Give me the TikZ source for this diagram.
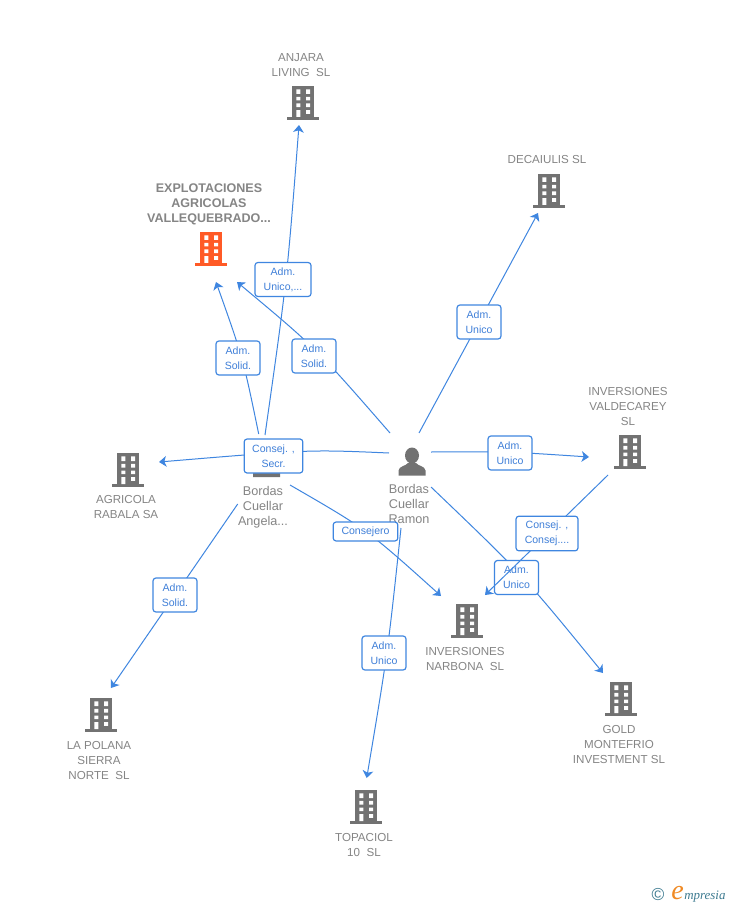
\documentclass[tikz,border=0pt]{standalone}
\usepackage{fontspec}
\setmainfont{Liberation Sans}
\newfontfamily\logofont{Liberation Serif}
\usetikzlibrary{arrows.meta}
\definecolor{linkblue}{HTML}{3F86E0}
\definecolor{boxtext}{HTML}{3F7FD8}
\definecolor{greytext}{HTML}{858585}
\definecolor{iconfill}{HTML}{727272}
\definecolor{orangeicon}{HTML}{FF5A26}
\definecolor{logoteal}{HTML}{3C7A90}
\definecolor{logoorange}{HTML}{F08A24}
\tikzset{
  x=0.75pt, y=-0.75pt,
  hub/.style={inner sep=0pt, minimum width=24pt, minimum height=26pt},
  caption/.style={inner sep=0pt, align=center, text=greytext, font=\fontsize{8.7}{11.25}\selectfont},
  captionbold/.style={caption, font=\fontsize{9.4}{11.25}\selectfont\bfseries},
  personcaption/.style={caption, font=\fontsize{9.5}{11.25}\selectfont},
  link/.style={draw=linkblue, line width=0.75pt, -{Stealth[length=5.5pt,width=8pt,inset=1.5pt]}},
  tag/.style={draw=linkblue, line width=0.9pt, fill=white, rounded corners=2.2pt, inner sep=0pt,
    minimum width=33pt, minimum height=25.5pt, align=center, text=boxtext,
    font=\fontsize{7.9}{11.25}\selectfont},
  bldg/.pic={
    \fill[pic actions] (-11,-17) rectangle (11,14);
    \fill[pic actions] (-16,14) rectangle (16,17);
    \fill[white] (-6.7,-13.7) rectangle (-2.7,-9) (3,-13.7) rectangle (7,-9)
                 (-6.7,-6.1) rectangle (-2.7,-2.5) (3,-6.1) rectangle (7,-2.5)
                 (-6.7,0.5) rectangle (-2.7,4.1) (3,0.5) rectangle (7,4.1)
                 (-6.7,7.2) rectangle (-2.7,14) (3,7.2) rectangle (7,10.8);
  },
  persona/.pic={
    \fill[iconfill] (0,-5.5) ellipse (7 and 8);
    \fill[iconfill] (-13.5,14.5) -- (-13.5,9.5) .. controls (-13,5) and (-6,5) .. (-4,2)
       -- (4,2) .. controls (6,5) and (13,5) .. (13.5,9.5) -- (13.5,14.5) -- cycle;
  }
}
\begin{document}
\begin{tikzpicture}
\useasboundingbox (0,0) rectangle (728,905);
\fill[white] (0,0) rectangle (728,905);

% entities
\node[hub] (anjara) at (303,103) {};
\node[hub] (decaiulis) at (549,191) {};
\node[hub] (explot) at (211,249) {};
\node[hub] (valdecarey) at (630,452) {};
\node[hub] (agricola) at (128,470) {};
\node[hub] (angela) at (266.5,462.5) {};
\node[hub] (ramon) at (412,461) {};
\node[hub] (narbona) at (467,621) {};
\node[hub] (gold) at (621,699) {};
\node[hub] (polana) at (101,715) {};
\node[hub] (topaciol) at (366,807) {};

\foreach \n in {anjara,decaiulis,valdecarey,agricola,narbona,gold,polana,topaciol}
  \pic[fill=iconfill] at (\n.center) {bldg};
\pic[fill=orangeicon] at (explot.center) {bldg};
\pic at (ramon.center) {persona};
\pic at (angela.center) {persona};

% captions
\node[caption] (lanjara) at (301,65.5) {ANJARA\\LIVING\ \ SL};
\node[caption] (ldecaiulis) at (547,160) {DECAIULIS SL};
\node[captionbold] (lexplot) at (209,204) {EXPLOTACIONES\\AGRICOLAS\\VALLEQUEBRADO...};
\node[caption] (lvaldecarey) at (628,407) {INVERSIONES\\VALDECAREY\\SL};
\node[caption] (lagricola) at (126,507.5) {AGRICOLA\\RABALA SA};
\node[personcaption] (langela) at (263,507) {Bordas\\Cuellar\\Angela...};
\node[personcaption] (lramon) at (409,504) {Bordas\\Cuellar\\Ramon};
\node[caption] (lnarbona) at (465,658.5) {INVERSIONES\\NARBONA\ \ SL};
\node[caption] (lgold) at (619,744) {GOLD\\MONTEFRIO\\INVESTMENT SL};
\node[caption] (lpolana) at (99,760) {LA POLANA\\SIERRA\\NORTE\ \ SL};
\node[caption] (ltopaciol) at (364,844.5) {TOPACIOL\\10\ \ SL};

% curve controls
\coordinate (c1) at (287,280);
\coordinate (c2) at (243,358);
\coordinate (c3) at (316,348);
\coordinate (c5) at (510,451.7);
\coordinate (c6) at (309,449.5);
\coordinate (c7) at (367,529.5);
\coordinate (c9) at (387.7,653);
\coordinate (c10) at (523,575);

% connectors
\draw[link] ([shift={(-1.5,-27.5)}]angela.center) .. controls (c1) .. ([shift={(-4,22)}]anjara.center);
\draw[link] ([shift={(-7.8,-28.5)}]angela.center) .. controls (c2) .. ([shift={(5,33)}]explot.center);
\draw[link] ([shift={(-22,-28)}]ramon.center) .. controls (c3) .. ([shift={(26,33)}]explot.center);
\draw[link] ([shift={(7,-28)}]ramon.center) -- ([shift={(-11,22)}]decaiulis.center);
\draw[link] ([shift={(19,-9)}]ramon.center) .. controls (c5) .. ([shift={(-41,5)}]valdecarey.center);
\draw[link] ([shift={(-23,-8)}]ramon.center) .. controls (c6) .. ([shift={(31,-8)}]agricola.center);
\draw[link] ([shift={(23.5,22.5)}]angela.center) .. controls (c7) .. ([shift={(-26,-25)}]narbona.center);
\draw[link] ([shift={(-28.8,41.5)}]angela.center) -- ([shift={(10,-27)}]polana.center);
\draw[link] ([shift={(-11,67)}]ramon.center) .. controls (c9) .. ([shift={(0.7,-29)}]topaciol.center);
\draw[link] ([shift={(19,26)}]ramon.center) .. controls (c10) .. ([shift={(-18,-26)}]gold.center);

% connector labels
\node[tag, minimum width=42pt] (t1) at (283,279.5) {Adm.\\Unico,...};
\node[tag] (t2) at (238,358) {Adm.\\Solid.};
\node[tag] (t3) at (314,356) {Adm.\\Solid.};
\node[tag] (t4) at (479,322) {Adm.\\Unico};
\node[tag] (t5) at (510,453) {Adm.\\Unico};
\node[tag, minimum width=44pt] (t6) at (273.5,456) {Consej. ,\\Secr.};
\node[tag, minimum width=48.5pt, minimum height=14.2pt] (t7) at (365.5,531.5) {\raisebox{-1pt}{Consejero}};
\node[tag] (t8) at (516.5,577.5) {Adm.\\Unico};
\draw[link] ([shift={(-22,23)}]valdecarey.center) -- ([shift={(18,-26)}]narbona.center);
\node[tag, minimum width=46.5pt, minimum height=26pt] (t9) at (547,533.5) {Consej. ,\\Consej....};
\node[tag] (t10) at (175,595) {Adm.\\Solid.};
\node[tag] (t11) at (384,653) {Adm.\\Unico};

% logo
\node[inner sep=0pt, text=logoteal, font=\fontsize{13}{13}\selectfont] (logoc) at (658,894.5) {©};
\node[inner sep=0pt, anchor=base west, text=logoorange, font=\logofont\itshape\fontsize{21}{21}\selectfont] (logoe) at (671,899) {e};
\node[inner sep=0pt, anchor=base west, text=logoteal, font=\logofont\itshape\fontsize{9.7}{10}\selectfont] (logot) at (684,899) {mpresia};
\end{tikzpicture}
\end{document}
